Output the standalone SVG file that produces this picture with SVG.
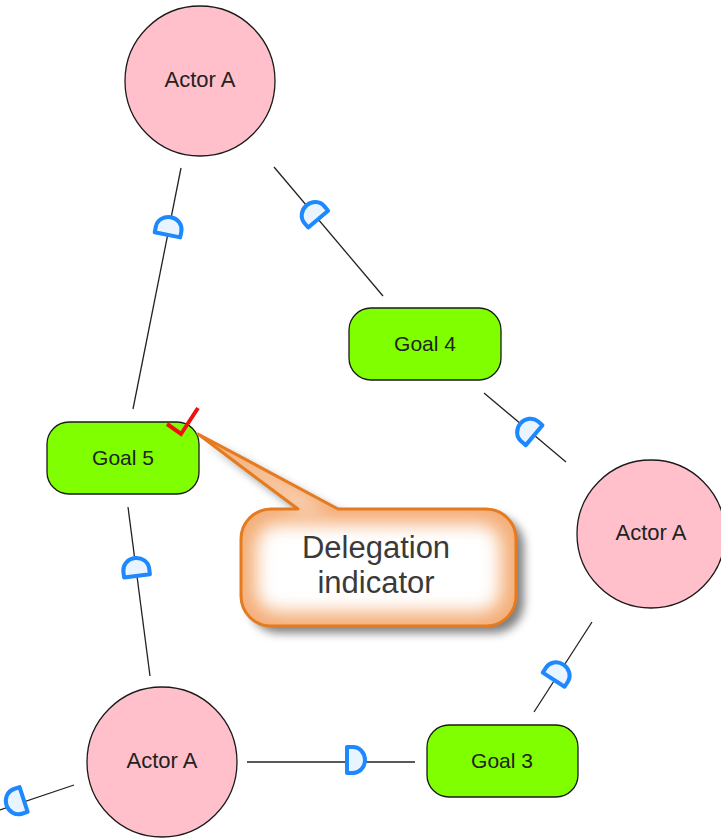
<svg xmlns="http://www.w3.org/2000/svg" width="721" height="838" viewBox="0 0 721 838">
<style>
.actor{fill:#FFC0CB;stroke:#1a1a1a;stroke-width:1.3}
.goal{fill:#7FFF00;stroke:#1a1a1a;stroke-width:1.3}
.lbl{font-family:"Liberation Sans",Arial,sans-serif;fill:#222;text-anchor:middle}
.al{font-size:22px}
.gl{font-size:21px}
.conn line{stroke:#222;stroke-width:1.3}
.d{fill:#E8F4FF;stroke:#1E88FF;stroke-width:4;stroke-linejoin:round}
.ct{font-family:"Liberation Sans",Arial,sans-serif;font-size:31px;fill:#3a3a3a;text-anchor:middle}
</style>
<defs>
<path id="dsym" d="M-8,-13 L-2,-13 A12,13 0 0 1 -2,13 L-8,13 Z"/>
<filter id="sh" x="-20%" y="-20%" width="150%" height="150%">
<feGaussianBlur in="SourceAlpha" stdDeviation="5"/>
<feOffset dx="8" dy="7" result="b"/>
<feComponentTransfer><feFuncA type="linear" slope="0.5"/></feComponentTransfer>
<feMerge><feMergeNode/><feMergeNode in="SourceGraphic"/></feMerge>
</filter>
<filter id="glow" x="-20%" y="-30%" width="140%" height="160%">
<feGaussianBlur stdDeviation="9"/>
</filter>
<clipPath id="cclip">
<path d="M271,509 L298,509 L198,434 L338,509 L486,509 A30,30 0 0 1 516,539 L516,596 A30,30 0 0 1 486,626 L271,626 A30,30 0 0 1 241,596 L241,539 A30,30 0 0 1 271,509 Z"/>
</clipPath>
</defs>
<g id="connectors" class="conn">
<line x1="181" y1="168" x2="133" y2="409"/>
<line x1="274" y1="167" x2="383" y2="296"/>
<line x1="484" y1="393" x2="566" y2="462"/>
<line x1="128" y1="507" x2="150" y2="676"/>
<line x1="247" y1="762" x2="415" y2="762"/>
<line x1="534" y1="712" x2="592" y2="622"/>
<line x1="74" y1="785" x2="0" y2="810"/>
<use href="#dsym" class="d" transform="translate(169,227) rotate(-78.7)"/>
<use href="#dsym" class="d" transform="translate(313,213) rotate(-130.2)"/>
<use href="#dsym" class="d" transform="translate(528,430) rotate(-140)"/>
<use href="#dsym" class="d" transform="translate(136,568) rotate(-97.4)"/>
<use href="#dsym" class="d" transform="translate(355,760)"/>
<use href="#dsym" class="d" transform="translate(558,673) rotate(-57.2)"/>
<use href="#dsym" class="d" transform="translate(16,802) rotate(162)"/>
</g>
<g id="actor-top">
<circle class="actor" cx="200" cy="81" r="75"/>
<text class="lbl al" x="200" y="87">Actor A</text>
</g>
<g id="actor-right">
<circle class="actor" cx="651" cy="534" r="74"/>
<text class="lbl al" x="651" y="540">Actor A</text>
</g>
<g id="actor-bottom">
<circle class="actor" cx="162" cy="762" r="75"/>
<text class="lbl al" x="162" y="768">Actor A</text>
</g>
<g id="goal-4">
<rect class="goal" x="349" y="308" width="152" height="72" rx="22"/>
<text class="lbl gl" x="425" y="351">Goal 4</text>
</g>
<g id="goal-5">
<rect class="goal" x="47" y="422" width="152" height="72" rx="22"/>
<text class="lbl gl" x="123" y="465">Goal 5</text>
</g>
<g id="goal-3">
<rect class="goal" x="427" y="725" width="151" height="72" rx="22"/>
<text class="lbl gl" x="502" y="768">Goal 3</text>
</g>
<g id="check">
<polyline points="167,424 181,434 198,408" fill="none" stroke="#EE1111" stroke-width="4" stroke-linejoin="miter"/>
</g>
<g id="callout">
<path filter="url(#sh)" d="M271,509 L298,509 L198,434 L338,509 L486,509 A30,30 0 0 1 516,539 L516,596 A30,30 0 0 1 486,626 L271,626 A30,30 0 0 1 241,596 L241,539 A30,30 0 0 1 271,509 Z" fill="#F4AE78"/>
<g clip-path="url(#cclip)">
<rect x="256" y="524" width="245" height="88" rx="22" fill="#ffffff" filter="url(#glow)"/>
<path d="M210,440 L300,512 L330,512 Z" fill="#ffffff" opacity="0.6" filter="url(#glow)"/>
</g>
<path d="M271,509 L298,509 L198,434 L338,509 L486,509 A30,30 0 0 1 516,539 L516,596 A30,30 0 0 1 486,626 L271,626 A30,30 0 0 1 241,596 L241,539 A30,30 0 0 1 271,509 Z" fill="none" stroke="#E57A1E" stroke-width="3" stroke-linejoin="round"/>
<text class="ct" x="376" y="558">Delegation</text>
<text class="ct" x="376" y="593">indicator</text>
</g>
</svg>
